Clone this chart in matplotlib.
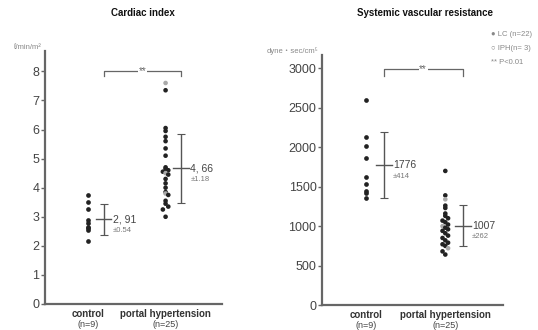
import numpy as np
import matplotlib
matplotlib.use("Agg")
import matplotlib.pyplot as plt

plt.rcParams["font.family"] = ["Liberation Sans", "DejaVu Sans",
                               "Noto Sans CJK JP"]

# ---- data ----------------------------------------------------------------
groups = ["control", "portal hypertension"]
group_n = ["(n=9)", "(n=25)"]

ci_control = [3.75, 3.5, 3.25, 2.9, 2.8, 2.65, 2.6, 2.55, 2.15]
ci_portal = [7.6, 7.35, 6.05, 5.95, 5.75, 5.6, 5.35, 5.1, 4.7, 4.65, 4.6,
             4.55, 4.5, 4.45, 4.3, 4.15, 4.0, 3.85, 3.8, 3.75, 3.55, 3.45,
             3.35, 3.25, 3.0]
ci_portal_iph = [7.6, 4.5, 3.8]
ci_mean = [2.91, 4.66]
ci_sd = [0.54, 1.18]
ci_mean_txt = ["2, 91", "4, 66"]
ci_sd_txt = ["±0.54", "±1.18"]

svr_control = [2600, 2130, 2010, 1860, 1620, 1530, 1450, 1420, 1360]
svr_portal = [1700, 1390, 1340, 1260, 1230, 1160, 1130, 1100, 1070, 1050,
              1020, 1000, 980, 960, 940, 910, 880, 850, 820, 790, 770, 750,
              720, 680, 640]
svr_portal_iph = [1340, 1000, 720]
svr_mean = [1776, 1007]
svr_sd = [414, 262]
svr_mean_txt = ["1776", "1007"]
svr_sd_txt = ["±414", "±262"]

legend_lines = ["● LC (n=22)", "○ IPH(n= 3)", "** P<0.01"]

TXT = "#444444"
AX = "#666666"


def swarm(vals, step, width):
    """small horizontal offsets for points that sit on top of each other"""
    offs = []
    last = None
    k = 0
    for v in vals:
        if last is not None and abs(v - last) < step:
            k += 1
        else:
            k = 0
        offs.append(((k % 3) - 1) * width if k else 0.0)
        last = v
    return np.array(offs)


def panel(ax, ctrl, port, iph, mean, sd, mtxt, stxt, ylim, yticks, step,
          mean_off, sig_y, sig_drop, unit, title, title_x):
    ax.set_xlim(0.44, 2.73)
    ax.set_ylim(*ylim)
    for s in ["top", "right"]:
        ax.spines[s].set_visible(False)
    for s in ["left", "bottom"]:
        ax.spines[s].set_color(AX)
        ax.spines[s].set_linewidth(1.6)
    ax.set_xticks([])
    ax.set_yticks(yticks)
    ax.tick_params(axis="y", length=3, width=1, colors=AX, labelcolor=TXT,
                   labelsize=9, pad=1)

    xc = np.ones(len(ctrl))
    ax.plot(xc, ctrl, "o", ms=3.4, color="#222222", mec="none")
    xp = 2 + swarm(port, step, 0.035)
    cols = ["#aaaaaa" if v in iph else "#222222" for v in port]
    ax.scatter(xp, port, s=11, c=cols, edgecolors="none")

    for i, (m, s) in enumerate(zip(mean, sd)):
        x = i + 1 + mean_off
        ax.errorbar(x, m, yerr=s, fmt="none", ecolor="#555555",
                    elinewidth=1.0, capsize=3, capthick=0.8)
        ax.plot([x - 0.1, x + 0.1], [m, m], color="#555555", lw=1.0)
        ax.text(x + 0.12, m, mtxt[i], fontsize=7.5, color=TXT,
                ha="left", va="center")
        ax.text(x + 0.12, m - (ylim[1] * 0.045), stxt[i], fontsize=5.5,
                color="#777777", ha="left", va="center")

    # significance bracket
    x0, x1 = 1 + mean_off, 2 + mean_off
    ax.plot([x0, x0, x1, x1], [sig_y - sig_drop, sig_y, sig_y, sig_y - sig_drop],
            color="#666666", lw=0.9)
    ax.text((x0 + x1) / 2, sig_y, "**", fontsize=7, color="#666666",
            ha="center", va="center",
            bbox=dict(facecolor="white", edgecolor="none", pad=0.5))

    ax.text(-0.02, 1.0, unit, transform=ax.transAxes, fontsize=5.5,
            color="#888888", ha="right", va="bottom")
    for i in range(2):
        ax.text(i + 1, -0.02, groups[i], transform=ax.get_xaxis_transform(),
                fontsize=7, fontweight="bold", color="#333333", ha="center",
                va="top")
        ax.text(i + 1, -0.062, group_n[i], transform=ax.get_xaxis_transform(),
                fontsize=6.5, color="#444444", ha="center", va="top")
    ax.figure.text(title_x, 0.962, title, fontsize=7, fontweight="bold",
                   color="#111111", ha="center", va="center")


fig = plt.figure(figsize=(5.38, 3.30), dpi=100)
ax1 = fig.add_axes([45 / 538, 26 / 330, 177 / 538, 253 / 330])
ax2 = fig.add_axes([322 / 538, 25 / 330, 181 / 538, 250 / 330])

panel(ax1, ci_control, ci_portal, ci_portal_iph, ci_mean, ci_sd,
      ci_mean_txt, ci_sd_txt, (0, 8.7), range(0, 9), 0.12, 0.2,
      8.0, 0.17, "ℓ/min/m²", "Cardiac index", 143 / 538)
panel(ax2, svr_control, svr_portal, svr_portal_iph, svr_mean, svr_sd,
      svr_mean_txt, svr_sd_txt, (0, 3170), range(0, 3001, 500), 45, 0.22,
      2990, 90, "dyne・sec/cm⁵", "Systemic vascular resistance", 425 / 538)

for i, t in enumerate(legend_lines):
    fig.text(491 / 538, 1 - (35 + i * 14) / 330, t, fontsize=5.5,
             color="#888888", ha="left", va="center")

fig.savefig("out.png", dpi=100)
